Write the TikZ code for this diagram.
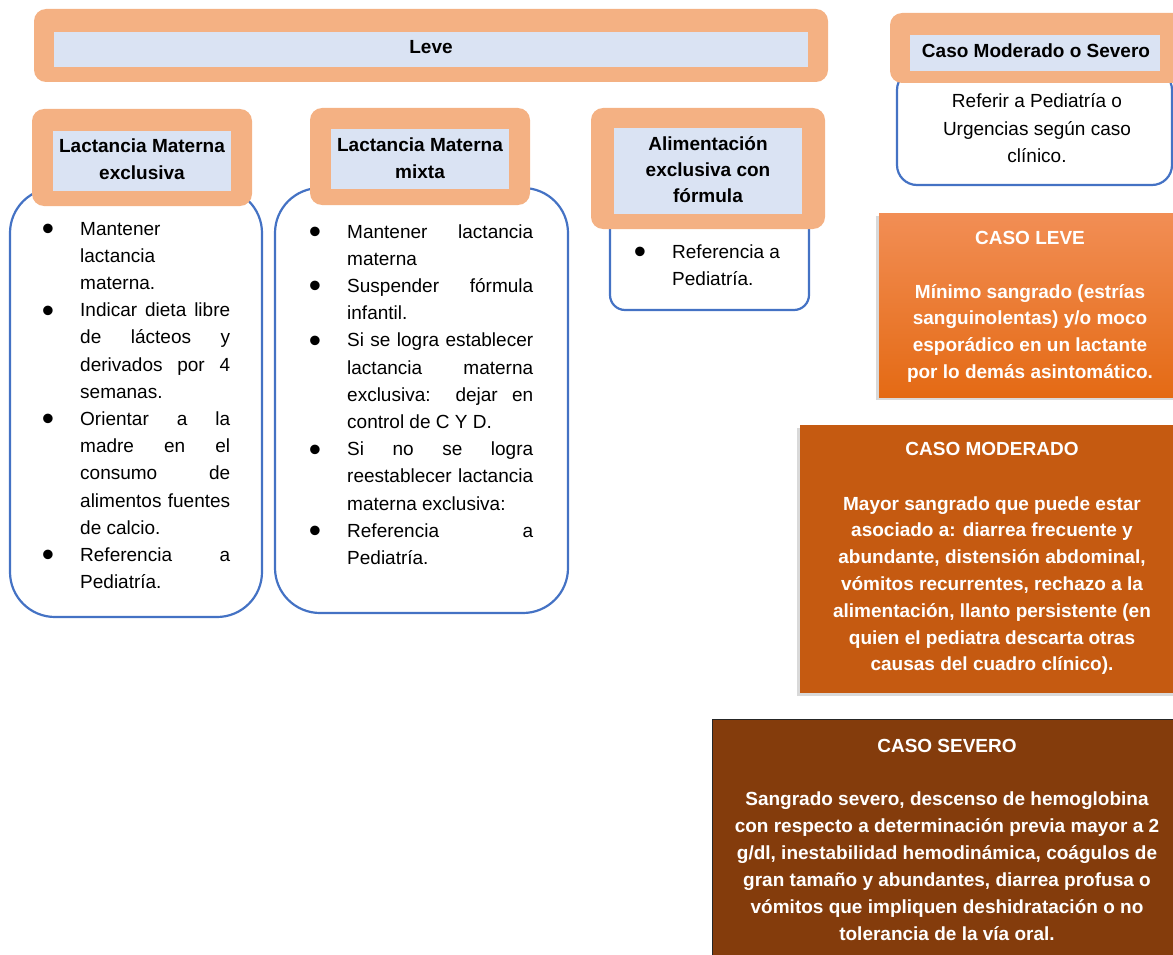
\documentclass[tikz,border=0pt]{standalone}
\usepackage{fontspec}
\setmainfont{Liberation Sans}
\usetikzlibrary{shadows}
\definecolor{hdr}{HTML}{F4B183}
\definecolor{inner}{HTML}{DAE3F3}
\definecolor{bord}{HTML}{4472C4}
\definecolor{levetop}{HTML}{F28E55}
\definecolor{levebot}{HTML}{E46A14}
\definecolor{moder}{HTML}{C55A11}
\definecolor{sever}{HTML}{843C0C}
\newcommand\bul{\llap{\raisebox{-5.5pt}{\fontsize{35}{35}\selectfont •}\hspace{26pt}}}
\newcommand\J[1]{\hbox to\hsize{#1}}
\newcommand\JB[1]{\hbox to\hsize{\bul#1}}
\newcommand\Lf[1]{\hbox to\hsize{#1\hfil}}
\newcommand\LB[1]{\hbox to\hsize{\bul#1\hfil}}
\tikzset{
  body/.style={draw=bord, line width=2.2pt, fill=white},
  hdrbox/.style={fill=hdr, rounded corners=12pt},
  innerbox/.style={fill=inner},
  txt/.style={inner sep=0pt, font=\fontsize{19}{27.2}\selectfont},
  htxt/.style={inner sep=0pt, font=\fontsize{19}{26.3}\selectfont\bfseries},
  wtxt/.style={inner sep=0pt, text=white, font=\fontsize{19}{26.8}\selectfont\bfseries},
  shad/.style={drop shadow={shadow xshift=-3pt, shadow yshift=-3pt, opacity=0.25, fill=black!60}}
}
\begin{document}
\begin{tikzpicture}[x=1pt,y=-1pt]
\useasboundingbox (0,0) rectangle (1173,955);
\clip (0,0) rectangle (1173,955);
% card bodies
\draw[body, rounded corners=45pt] (10,188) rectangle (262,617);
\draw[body, rounded corners=45pt] (275,188) rectangle (568,613);
\draw[body, rounded corners=15pt] (610,212) rectangle (809,310);
\draw[body, rounded corners=20pt] (897,70) rectangle (1172,185);
% orange headers
\fill[hdrbox] (34,9) rectangle (828,82);
\fill[innerbox] (54,32) rectangle (808,67);
\fill[hdrbox] (32,109) rectangle (252,206);
\fill[innerbox] (53,131) rectangle (231,191);
\fill[hdrbox] (310,108) rectangle (530,205);
\fill[innerbox] (331,129) rectangle (509,189);
\fill[hdrbox] (591,108) rectangle (825,229);
\fill[innerbox] (614,128) rectangle (802,214);
\fill[hdrbox] (890,13) rectangle (1190,83);
\fill[innerbox] (910,35) rectangle (1160,71);
% header texts
\node[htxt, anchor=base] (leve) at (431,54) {Leve};
\node[htxt, anchor=base] (h1) at (142,153) {\parbox[t]{178pt}{\centering Lactancia Materna\\exclusiva}};
\node[htxt, anchor=base] (h2) at (420,152) {\parbox[t]{178pt}{\centering Lactancia Materna\\mixta}};
\node[htxt, anchor=base] (h3) at (708,150) {\parbox[t]{188pt}{\centering Alimentación\\exclusiva con\\fórmula}};
\node[htxt, anchor=base] (h4) at (1036,58) {Caso Moderado o Severo};
% card 1 body
\node[txt, anchor=base west] (b1) at (80,235) {\parbox[t]{150pt}{%
\LB{Mantener}
\Lf{lactancia}
\Lf{materna.}
\JB{Indicar dieta libre}
\J{de lácteos y}
\J{derivados por 4}
\Lf{semanas.}
\JB{Orientar a la}
\J{madre en el}
\J{consumo de}
\J{alimentos fuentes}
\Lf{de calcio.}
\JB{Referencia a}
\Lf{Pediatría.}}};
% card 2 body
\node[txt, anchor=base west] (b2) at (347,238) {\parbox[t]{186pt}{%
\JB{Mantener lactancia}
\Lf{materna}
\JB{Suspender fórmula}
\Lf{infantil.}
\JB{Si se logra establecer}
\J{lactancia materna}
\J{exclusiva: dejar en}
\Lf{control de C Y D.}
\JB{Si no se logra}
\J{reestablecer lactancia}
\Lf{materna exclusiva:}
\JB{Referencia a}
\Lf{Pediatría.}}};
% card 3 body
\node[txt, anchor=base west] (b3) at (672,258) {\parbox[t]{125pt}{%
\LB{Referencia a}
\Lf{Pediatría.}}};
% card 4 body
\node[txt, anchor=base] (b4) at (1037,108) {\parbox[t]{260pt}{\centering Referir a Pediatría o\\Urgencias según caso\\clínico.}};
% right boxes
\path[shad, top color=levetop, bottom color=levebot] (879,213) rectangle (1190,397);
\path[shad, fill=moder] (800,425) rectangle (1190,693);
\path[fill=sever, draw=black!85, line width=1pt] (712,719) rectangle (1190,975);
\node[wtxt, anchor=base] (lt) at (1030,244) {CASO LEVE};
\node[wtxt, anchor=base] (lb) at (1030,298) {\parbox[t]{300pt}{\centering Mínimo sangrado (estrías\\sanguinolentas) y/o moco\\esporádico en un lactante\\por lo demás asintomático.}};
\node[wtxt, anchor=base] (mt) at (992,455) {CASO MODERADO};
\node[wtxt, anchor=base] (mb) at (992,510) {\parbox[t]{360pt}{\centering Mayor sangrado que puede estar\\asociado a: diarrea frecuente y\\abundante, distensión abdominal,\\vómitos recurrentes, rechazo a la\\alimentación, llanto persistente (en\\quien el pediatra descarta otras\\causas del cuadro clínico).}};
\node[wtxt, anchor=base] (st) at (947,752) {CASO SEVERO};
\node[wtxt, anchor=base] (sb) at (947,805) {\parbox[t]{455pt}{\centering\fontsize{19}{27}\selectfont Sangrado severo, descenso de hemoglobina\\con respecto a determinación previa mayor a 2\\g/dl, inestabilidad hemodinámica, coágulos de\\gran tamaño y abundantes, diarrea profusa o\\vómitos que impliquen deshidratación o no\\tolerancia de la vía oral.}};
\end{tikzpicture}
\end{document}
